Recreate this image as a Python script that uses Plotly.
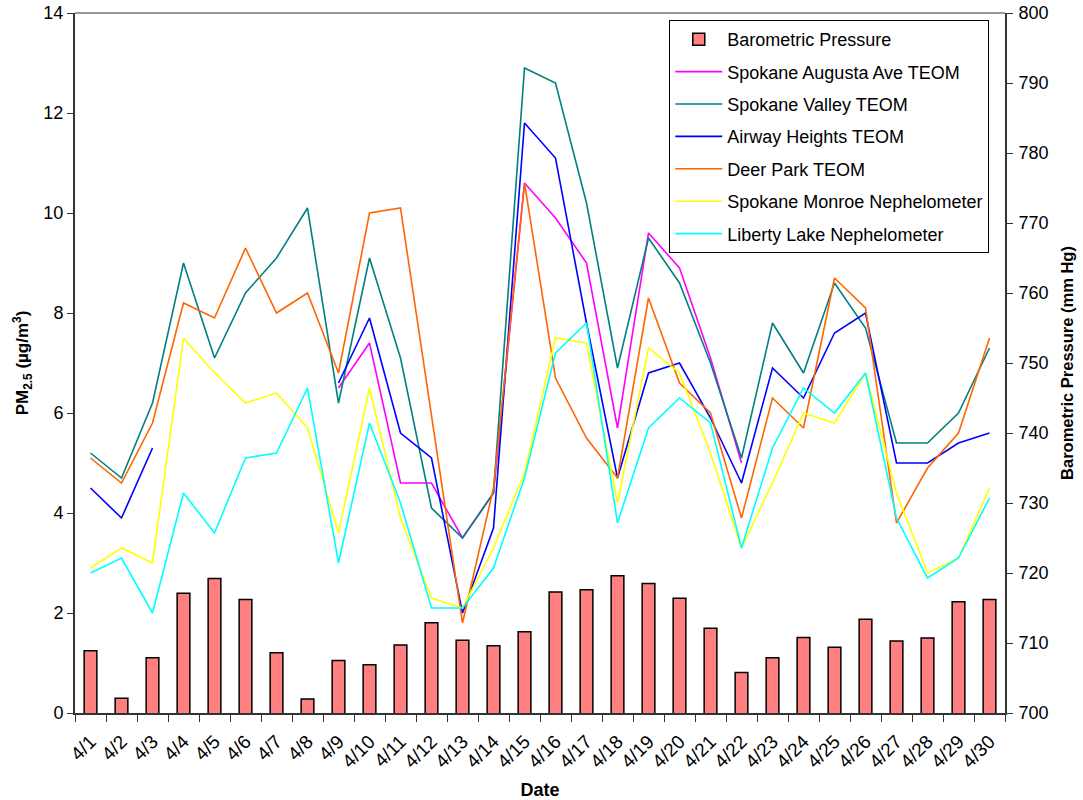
import plotly.graph_objects as go

dates = ["4/%d" % d for d in range(1, 31)]

pressure = [708.9, 702.1, 707.9, 717.1, 719.2, 716.2, 708.6, 702.0, 707.5, 706.9,
            709.7, 712.9, 710.4, 709.6, 711.6, 717.3, 717.6, 719.6, 718.5, 716.4,
            712.1, 705.8, 707.9, 710.8, 709.4, 713.4, 710.3, 710.7, 715.9, 716.2]

augusta = [None, None, None, None, None, None, None, None, 6.5, 7.4,
           4.6, 4.6, 3.5, 4.4, 10.6, 9.9, 9.0, 5.7, 9.6, 8.9,
           7.1, 5.0, None, None, None, None, None, None, None, None]

valley = [5.2, 4.7, 6.2, 9.0, 7.1, 8.4, 9.1, 10.1, 6.2, 9.1,
          7.1, 4.1, 3.5, 4.4, 12.9, 12.6, 10.2, 6.9, 9.5, 8.6,
          7.0, 5.1, 7.8, 6.8, 8.6, 7.7, 5.4, 5.4, 6.0, 7.3]

airway = [4.5, 3.9, 5.3, None, None, None, None, None, 6.6, 7.9,
          5.6, 5.1, 2.0, 3.7, 11.8, 11.1, 7.8, 4.7, 6.8, 7.0,
          5.9, 4.6, 6.9, 6.3, 7.6, 8.0, 5.0, 5.0, 5.4, 5.6]

deer = [5.1, 4.6, 5.8, 8.2, 7.9, 9.3, 8.0, 8.4, 6.8, 10.0,
        10.1, 6.0, 1.8, 4.5, 10.6, 6.7, 5.5, 4.7, 8.3, 6.6,
        6.0, 3.9, 6.3, 5.7, 8.7, 8.1, 3.8, 4.9, 5.6, 7.5]

monroe = [2.9, 3.3, 3.0, 7.5, 6.8, 6.2, 6.4, 5.7, 3.6, 6.5,
          3.9, 2.3, 2.1, 3.3, 4.8, 7.5, 7.4, 4.2, 7.3, 6.8,
          5.2, 3.3, 4.6, 6.0, 5.8, 6.8, 4.4, 2.8, 3.1, 4.5]

liberty = [2.8, 3.1, 2.0, 4.4, 3.6, 5.1, 5.2, 6.5, 3.0, 5.8,
           4.2, 2.1, 2.1, 2.9, 4.7, 7.2, 7.8, 3.8, 5.7, 6.3,
           5.8, 3.3, 5.3, 6.5, 6.0, 6.8, 3.9, 2.7, 3.1, 4.3]

line_series = [
    ("Spokane Augusta Ave TEOM", augusta, "#FF00FF"),
    ("Spokane Valley TEOM", valley, "#008080"),
    ("Airway Heights TEOM", airway, "#0000FF"),
    ("Deer Park TEOM", deer, "#FF6600"),
    ("Spokane Monroe Nephelometer", monroe, "#FFFF00"),
    ("Liberty Lake Nephelometer", liberty, "#00FFFF"),
]

FONT = "Liberation Sans, Arial, sans-serif"

fig = go.Figure()
fig.add_trace(go.Bar(
    x=dates, y=pressure, name="Barometric Pressure", yaxis="y",
    width=0.41, marker=dict(color="#FF8080", line=dict(color="black", width=1.5)),
    legendgroup="g0",
))
for i, (name, vals, col) in enumerate(line_series):
    fig.add_trace(go.Scatter(
        x=dates, y=vals, name=name, mode="lines", yaxis="y2",
        line=dict(color=col, width=1.6), connectgaps=False,
        legendgroup="g%d" % (i + 1),
    ))

fig.update_layout(
    width=1083, height=800,
    margin=dict(l=75, r=78, t=13, b=87),
    paper_bgcolor="white", plot_bgcolor="white",
    font=dict(family=FONT, size=18, color="black"),
    bargap=0.5,
    showlegend=True,
    legend=dict(
        x=0.639, y=0.99, xanchor="left", yanchor="top",
        bordercolor="black", borderwidth=1, bgcolor="white",
        font=dict(family=FONT, size=18), traceorder="grouped",
        tracegroupgap=6, itemwidth=47,
    ),
    xaxis=dict(
        type="category", range=[-0.5, 29.5], tickangle=-45, automargin=False,
        tickson="boundaries", ticks="outside", ticklen=7, tickcolor="#333",
        ticklabelstandoff=8,
        showline=True, linecolor="#333", linewidth=2, showgrid=False,
        tickfont=dict(family=FONT, size=19),
        title=dict(text="<b>Date</b>", font=dict(size=18), standoff=16),
    ),
    yaxis=dict(
        side="right", range=[700, 800], dtick=10, automargin=False,
        ticks="outside", ticklen=6, tickcolor="#333", ticklabelstandoff=2,
        showline=True, linecolor="#333", linewidth=2, showgrid=False, zeroline=False,
        tickfont=dict(size=18),
        title=dict(text="<b>Barometric Pressure (mm Hg)</b>", font=dict(size=16.5), standoff=14),
    ),
    yaxis2=dict(
        overlaying="y", side="left", range=[0, 14], dtick=2, automargin=False,
        ticks="outside", ticklen=6, tickcolor="#333",
        showline=True, linecolor="#333", linewidth=2, showgrid=False, zeroline=False,
        tickfont=dict(size=18),
        title=dict(text="<b>PM<sub>2.5</sub> (µg/m<sup>3</sup>)</b>", font=dict(size=17), standoff=10),
    ),
    shapes=[dict(type="line", xref="paper", yref="paper", x0=0, x1=1, y0=1, y1=1,
                 line=dict(color="#999999", width=2))],
)

fig.write_html("out.html", config={"displayModeBar": False},
               post_script="document.body.style.margin='0';")
